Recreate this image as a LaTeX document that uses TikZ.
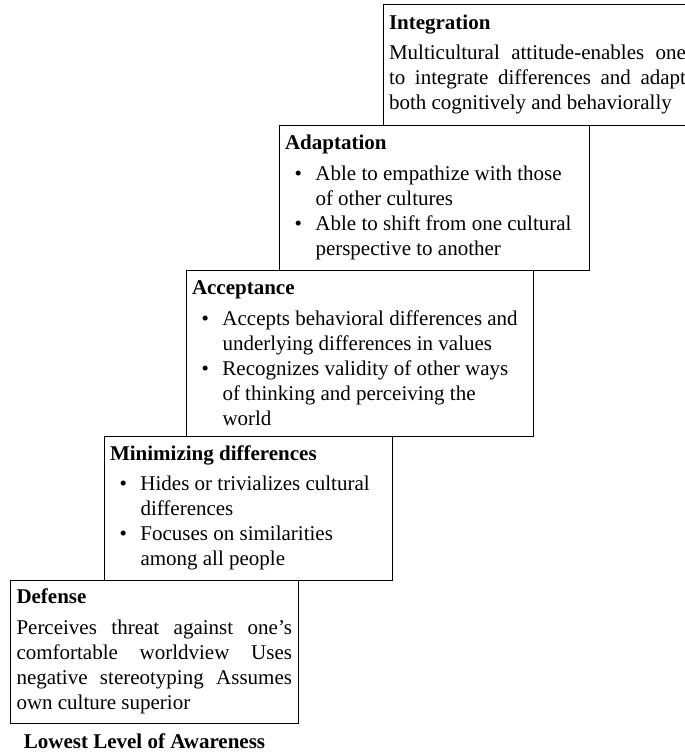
\documentclass[tikz,border=0pt]{standalone}
\usepackage{fontspec}
\setmainfont{Liberation Serif}
\usetikzlibrary{positioning}
\setlength{\parindent}{0pt}
\newcommand{\bul}{\makebox[30.5pt][l]{\hspace{9.5pt}\textbullet}}
\newcommand{\cont}{\hspace*{30.5pt}}

\begin{document}
\begin{tikzpicture}[x=1pt,y=-1pt,
  stage/.style={rectangle,draw,line width=1pt,anchor=north west,outer sep=0pt,inner xsep=6pt,inner ysep=0pt,align=flush left,font=\fontsize{21}{25}\selectfont},
  flat/.style={align=justify},
  caption/.style={font=\fontsize{21}{25}\selectfont\bfseries},
]
\useasboundingbox (0,0) rectangle (685,753);
\clip (0,0) rectangle (685,753);

% Stage 5: Integration
\node[stage,flat,text width=297pt,minimum height=121pt] (Int) at (383,4) {\textbf{Integration}\\[5.5pt]
Multicultural attitude-enables one\linebreak to integrate differences and adapt\linebreak both cognitively and behaviorally};

% Stage 4: Adaptation
\node[stage,text width=298pt,minimum height=145pt] (Ada) at (279,125) {\textbf{Adaptation}\\[5.5pt]
\bul Able to empathize with those\\
\cont of other cultures\\
\bul Able to shift from one cultural\\
\cont perspective to another};

% Stage 3: Acceptance
\node[stage,text width=335pt,minimum height=166pt] (Acc) at (186,270) {\textbf{Acceptance}\\[5.5pt]
\bul Accepts behavioral differences and\\
\cont underlying differences in values\\
\bul Recognizes validity of other ways\\
\cont of thinking and perceiving the\\
\cont world};

% Stage 2: Minimizing differences
\node[stage,text width=276pt,minimum height=144pt] (Min) at (104,436) {\textbf{Minimizing differences}\\[5.5pt]
\bul Hides or trivializes cultural\\
\cont differences\\
\bul Focuses on similarities\\
\cont among all people};

% Stage 1: Defense
\node[stage,flat,text width=275.5pt,minimum height=143pt] (Def) at (10.5,580) {\textbf{Defense}\\[5.5pt]
Perceives threat against one’s\linebreak comfortable worldview Uses\linebreak negative stereotyping Assumes\linebreak own culture superior};

% Bottom caption
\node[caption] (low) at (144.5,741) {Lowest Level of Awareness};

\end{tikzpicture}
\end{document}
